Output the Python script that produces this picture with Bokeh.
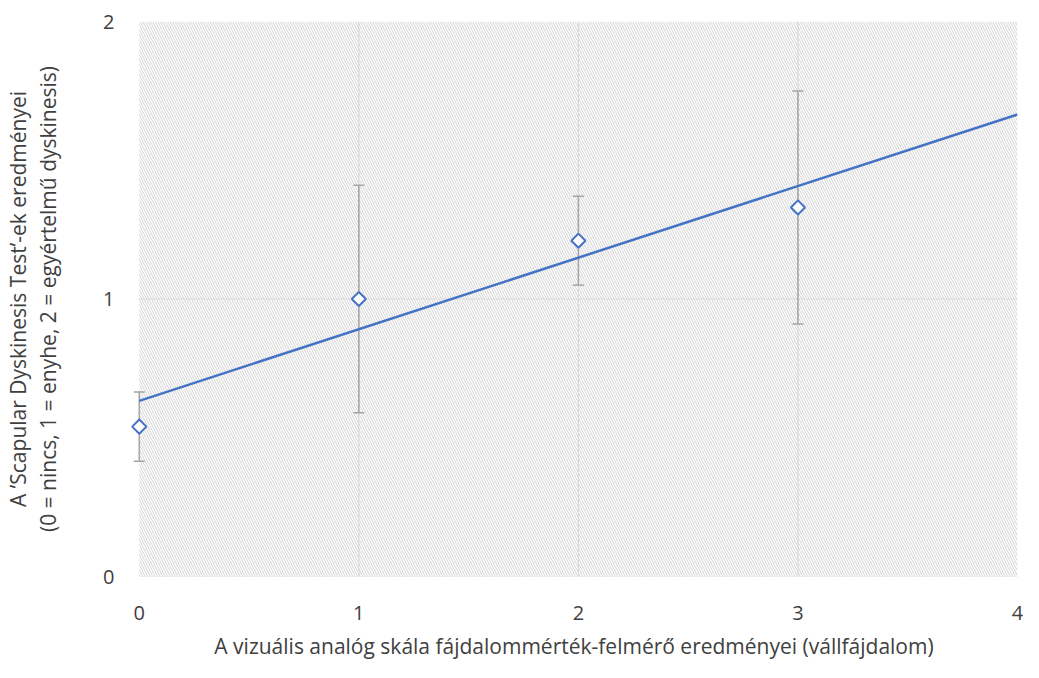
import numpy as np
from bokeh.plotting import figure
from bokeh.models import (Range1d, FixedTicker, Whisker, TeeHead, ColumnDataSource,
                          LinearAxis)
from bokeh.embed import file_html
from bokeh.resources import INLINE

# data
pain_score = [0, 1, 2, 3]
sdt_mean = [0.54, 1.00, 1.21, 1.33]
sdt_err = [0.125, 0.41, 0.16, 0.42]
x_ticks = [0, 1, 2, 3, 4]
y_ticks = [0, 1, 2]
x_label = "A vizuális analóg skála fájdalommérték-felmérő eredményei (vállfájdalom)"
y_label_1 = "A ’Scapular Dyskinesis Test’-ek eredményei"
y_label_2 = "(0 = nincs, 1 = enyhe, 2 = egyértelmű dyskinesis)"

BLUE = "#4472C4"
GRID = "#d9d9d9"
TEXT = "#404040"
FONT = "Open Sans"

p = figure(width=1023, height=662, output_backend="svg", toolbar_location=None,
           x_range=Range1d(-0.04, 4.0), y_range=Range1d(0, 2),
           min_border_left=127, min_border_right=6, min_border_top=21, min_border_bottom=86)
p.outline_line_color = None
p.xgrid.visible = False
p.ygrid.visible = False

# hatched plot area
p.quad(left=[x_ticks[0]], right=[x_ticks[-1]], bottom=[y_ticks[0]], top=[y_ticks[-1]],
       fill_alpha=0, line_color=None, hatch_pattern="\\", hatch_color="#d2d2d2",
       hatch_weight=1, hatch_scale=5, level="image")

# grid lines
vx = x_ticks[1:-1]
p.segment(x0=vx, x1=vx, y0=[y_ticks[0]] * len(vx), y1=[y_ticks[-1]] * len(vx),
          line_color=GRID, line_width=1.2, level="underlay")
hy = y_ticks[:-1]
p.segment(x0=[x_ticks[0]] * len(hy), x1=[x_ticks[-1]] * len(hy), y0=hy, y1=hy,
          line_color=GRID, line_width=1.2, level="underlay")

# error bars
src = ColumnDataSource(dict(x=pain_score,
                            upper=[m + e for m, e in zip(sdt_mean, sdt_err)],
                            lower=[m - e for m, e in zip(sdt_mean, sdt_err)]))
w = Whisker(source=src, base="x", upper="upper", lower="lower", dimension="height",
            line_color="#a5a5a5", line_width=1.5,
            upper_head=TeeHead(size=11, line_color="#a5a5a5", line_width=1.5),
            lower_head=TeeHead(size=11, line_color="#a5a5a5", line_width=1.5))
p.add_layout(w)

# linear trendline
slope, intercept = np.polyfit(pain_score, sdt_mean, 1)
tx = [x_ticks[0], x_ticks[-1]]
p.line(tx, [intercept + slope * t for t in tx], line_color=BLUE, line_width=2.5)

# markers
p.scatter(pain_score, sdt_mean, marker="square", angle=np.pi / 4, size=10,
          fill_color="white", line_color=BLUE, line_width=2)

# outer axis carrying the first line of the y label
outer = LinearAxis(ticker=FixedTicker(ticks=[]), axis_label=y_label_1)
p.add_layout(outer, "left")

for ax in (p.xaxis[0], p.yaxis[0], outer):
    ax.axis_line_color = None
    ax.major_tick_line_color = None
    ax.minor_tick_line_color = None
    ax.major_tick_out = 0
    ax.major_tick_in = 0
    ax.major_label_text_font = FONT
    ax.major_label_text_font_size = "20px"
    ax.major_label_text_color = TEXT
    ax.axis_label_text_font = FONT
    ax.axis_label_text_font_size = "21px"
    ax.axis_label_text_font_style = "normal"
    ax.axis_label_text_color = TEXT

p.xaxis.ticker = FixedTicker(ticks=x_ticks)
p.yaxis[0].ticker = FixedTicker(ticks=y_ticks)
p.xaxis.major_label_standoff = 29
p.yaxis[0].major_label_standoff = 16
p.xaxis.axis_label = x_label
p.yaxis[0].axis_label = y_label_2
p.xaxis.axis_label_standoff = 9
p.yaxis[0].axis_label_standoff = 38
outer.major_label_standoff = 0
outer.axis_label_standoff = 0

open("out.html", "w").write(file_html(p, INLINE))
